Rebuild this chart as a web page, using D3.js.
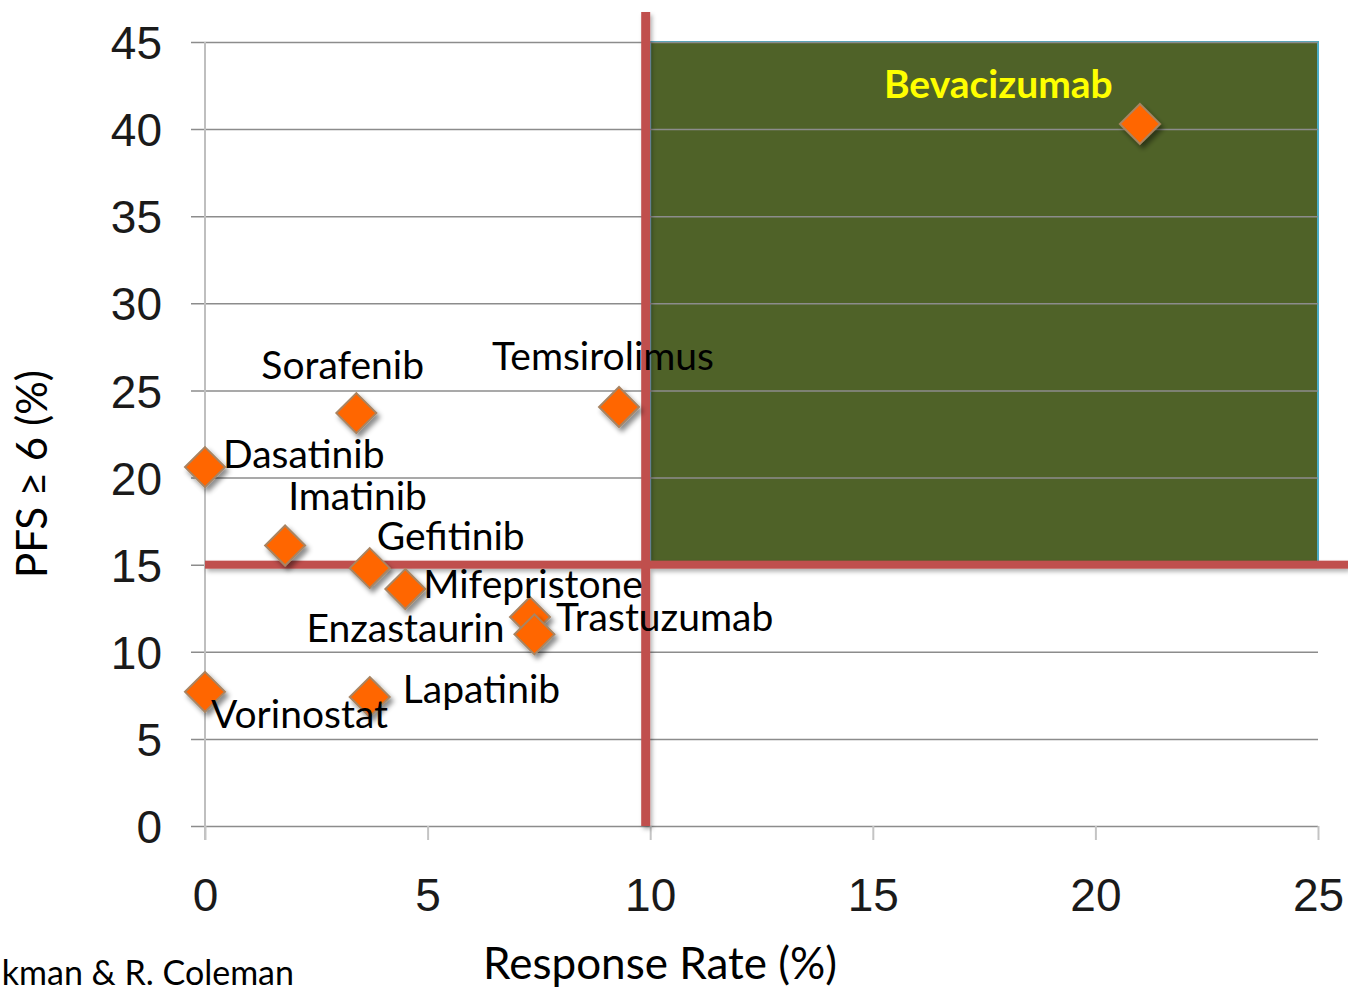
<!DOCTYPE html>
<html>
<head>
<meta charset="utf-8">
<script src="https://cdn.jsdelivr.net/npm/d3@7"></script>
<style>
  html, body { margin: 0; padding: 0; background: #ffffff; }
  svg { display: block; }
</style>
</head>
<body>
<svg id="chart" width="1348" height="988"></svg>
<script>
// ---- data ----
const drugs = ["Bevacizumab", "Temsirolimus", "Sorafenib", "Dasatinib", "Imatinib", "Gefitinib",
               "Mifepristone", "Trastuzumab", "Enzastaurin", "Vorinostat", "Lapatinib"];
const responseRate = [21.0, 9.3, 3.4, 0.0, 1.8, 3.7, 4.5, 7.3, 7.4, 0.0, 3.7];
const pfs6 = [40.3, 24.05, 23.7, 20.6, 16.1, 14.8, 13.6, 12.0, 11.0, 7.7, 7.4];
const xTicks = [0, 5, 10, 15, 20, 25];
const yTicks = [0, 5, 10, 15, 20, 25, 30, 35, 40, 45];
const rrThreshold = 10;
const pfsThreshold = 15;
const xTitle = "Response Rate (%)";
const yTitle = "PFS \u2265 6 (%)";
const credit = "kman & R. Coleman";

// label placement offsets (pixels, relative to the marker)
const labelOffsets = {
  "Bevacizumab": [-256, -26],
  "Temsirolimus": [-127, -37],
  "Sorafenib": [-95, -34],
  "Dasatinib": [18, 1],
  "Imatinib": [3, -36],
  "Gefitinib": [7, -18],
  "Mifepristone": [18, 9],
  "Trastuzumab": [26, 14],
  "Enzastaurin": [-228, 8],
  "Vorinostat": [6, 36],
  "Lapatinib": [33, 6]
};

const svg = d3.select("#chart");
const x = d3.scaleLinear().domain([0, 25]).range([205, 1318]);
const y = d3.scaleLinear().domain([0, 45]).range([826, 42]);

const defs = svg.append("defs");
const f = defs.append("filter").attr("id", "shadow").attr("x", "-50%").attr("y", "-50%").attr("width", "200%").attr("height", "200%");
f.append("feDropShadow").attr("dx", 3).attr("dy", 4).attr("stdDeviation", 2.5).attr("flood-color", "#000").attr("flood-opacity", 0.45);
const f2 = defs.append("filter").attr("id", "lshadow").attr("filterUnits", "userSpaceOnUse")
  .attr("x", 0).attr("y", 0).attr("width", 1348).attr("height", 988);
f2.append("feDropShadow").attr("dx", 2).attr("dy", 3).attr("stdDeviation", 2).attr("flood-color", "#000").attr("flood-opacity", 0.3);

// green quadrant
svg.append("rect")
  .attr("x", x(rrThreshold))
  .attr("y", y(45))
  .attr("width", x(25) - x(rrThreshold))
  .attr("height", y(pfsThreshold) - y(45))
  .attr("fill", "#4f6228")
  .attr("stroke", "#4bacc6")
  .attr("stroke-width", 2);

// gridlines + y axis labels
const yAxis = d3.axisLeft(y).tickValues(yTicks).tickSize(14).tickPadding(29).tickFormat(d3.format("d"));
const gy = svg.append("g").attr("transform", `translate(${x(0)},0)`).call(yAxis);
gy.select(".domain").remove();
gy.selectAll(".tick line").attr("x2", x(25) - x(0)).attr("x1", -14).attr("stroke", "#8c8c8c").attr("stroke-width", 1.5);
gy.selectAll(".tick text")
  .attr("font-family", "'Liberation Sans', Arial, sans-serif")
  .attr("font-size", 46).attr("fill", "#1a1a1a")
  .attr("dy", "0.36em");

// vertical axis line
svg.append("line").attr("x1", x(0)).attr("x2", x(0)).attr("y1", y(45)).attr("y2", y(0) + 14)
  .attr("stroke", "#bfbfbf").attr("stroke-width", 2);

// x axis
const xAxis = d3.axisBottom(x).tickValues(xTicks).tickSize(14).tickPadding(38).tickFormat(d3.format("d"));
const gx = svg.append("g").attr("transform", `translate(0,${y(0)})`).call(xAxis);
gx.select(".domain").remove();
gx.selectAll(".tick line").attr("stroke", "#c4c4c4").attr("stroke-width", 2);
gx.selectAll(".tick text")
  .attr("font-family", "'Liberation Sans', Arial, sans-serif")
  .attr("font-size", 46).attr("fill", "#1a1a1a");

// threshold lines (drawn as rects so the shadow filter has a real box)
const thr = svg.append("g").attr("filter", "url(#lshadow)");
thr.append("rect")
  .attr("x", x(0)).attr("width", 1348 - x(0))
  .attr("y", y(pfsThreshold) - 4).attr("height", 8)
  .attr("fill", "#c0504d");
thr.append("rect")
  .attr("x", x(rrThreshold) - 9).attr("width", 9)
  .attr("y", 12).attr("height", y(0) - 12)
  .attr("fill", "#c0504d");

// points
const pts = drugs.map((d, i) => ({ name: d, rr: responseRate[i], pfs: pfs6[i] }));
const diamond = "M0,-20L20,0L0,20L-20,0Z";
svg.append("g").selectAll("path").data(pts).join("path")
  .attr("d", diamond)
  .attr("transform", d => `translate(${x(d.rr)},${y(d.pfs)})`)
  .attr("fill", "#ff6600")
  .attr("stroke", "#a88462")
  .attr("stroke-width", 2)
  .attr("filter", "url(#shadow)");

// labels
svg.append("g").selectAll("text").data(pts).join("text")
  .attr("x", d => x(d.rr) + labelOffsets[d.name][0])
  .attr("y", d => y(d.pfs) + labelOffsets[d.name][1])
  .attr("font-family", "Lato, 'Open Sans', sans-serif")
  .attr("font-size", 39)
  .attr("font-weight", d => d.name === "Bevacizumab" ? 700 : 400)
  .attr("fill", d => d.name === "Bevacizumab" ? "#ffff00" : "#000")
  .text(d => d.name);

// axis titles
svg.append("text")
  .attr("x", 660).attr("y", 979)
  .attr("text-anchor", "middle")
  .attr("font-family", "Lato, 'Open Sans', sans-serif")
  .attr("font-size", 44).attr("fill", "#000")
  .text(xTitle);
svg.append("text")
  .attr("transform", "translate(47,474) rotate(-90)")
  .attr("text-anchor", "middle")
  .attr("font-family", "Lato, 'Open Sans', sans-serif")
  .attr("font-size", 42).attr("fill", "#000")
  .text(yTitle);

// credit
svg.append("text")
  .attr("x", 294).attr("y", 985)
  .attr("text-anchor", "end")
  .attr("font-family", "Lato, 'Open Sans', sans-serif")
  .attr("font-size", 34).attr("fill", "#000")
  .text(credit);
</script>
</body>
</html>
